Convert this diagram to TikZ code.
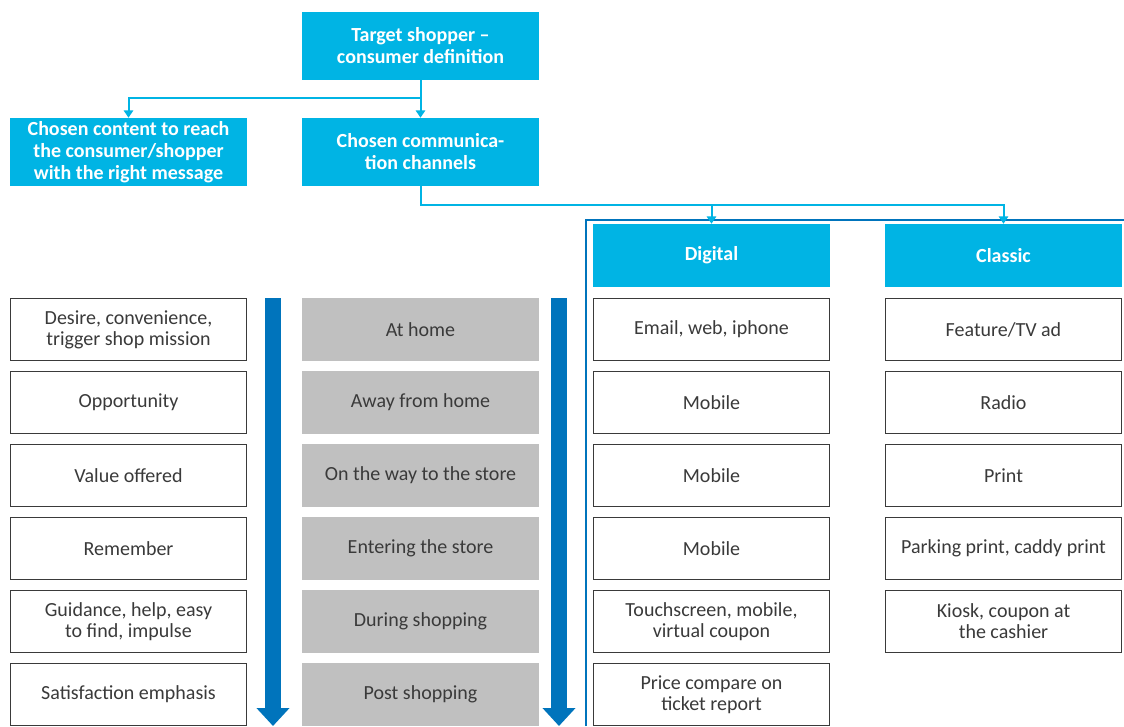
\documentclass[tikz,border=0pt]{standalone}
\usepackage{fontspec}
\setmainfont{Carlito}
\usetikzlibrary{arrows.meta,positioning}
\definecolor{cyanbox}{HTML}{00B4E4}
\definecolor{arrowblue}{HTML}{0074BC}
\definecolor{greybox}{HTML}{C0C0C0}
\definecolor{txtgrey}{HTML}{3A3A3A}
\newcommand{\hd}[1]{\textbf{#1}}

\begin{document}
\begin{tikzpicture}[x=0.75pt,y=-0.75pt,
    headbox/.style={fill=cyanbox, text=white, align=center, inner sep=0pt,
      minimum width=177.75pt, minimum height=51pt,
      font=\fontsize{15}{16.5}\selectfont},
    chanbox/.style={headbox, minimum height=47.25pt},
    whitebox/.style={draw=txtgrey, line width=0.75pt, fill=white, text=txtgrey,
      align=center, inner sep=0pt, minimum width=177pt, minimum height=46.5pt,
      font=\fontsize{15}{15.75}\selectfont},
    greyrow/.style={whitebox, draw=none, fill=greybox, minimum width=177.75pt,
      minimum height=47.25pt},
    link/.style={draw=cyanbox, line width=1.5pt, -{Triangle[width=7pt,length=5.5pt]}},
    fatarrow/.style={draw=arrowblue, line width=12pt, -{Triangle[width=24pt,length=13.5pt]}}]
    \useasboundingbox (0,0) rectangle (1124,726);

    \node[headbox] (target) at (420.5,46) {\hd{Target shopper --}\\\hd{consumer definition}};
    \node[headbox] (content) at (128.5,152) {\hd{Chosen content to reach}\\\hd{the consumer/shopper}\\\hd{with the right message}};
    \node[headbox] (comm) at (420.5,152) {\hd{Chosen communica-}\\\hd{tion channels}};

    \draw[arrowblue, line width=1.5pt] (586,726) -- (586,220) -- (1124,220);

    \node[chanbox] (digital) at (711.5,255.5) {\hd{Digital}};
    \node[chanbox] (classic) at (1003.5,255.5) {\hd{Classic}};

    \coordinate (split) at (420.5,98);
    \coordinate (fork) at (420.5,205);
    \draw[link] (target.south) -- (split) -| (content.north);
    \draw[link] (split) -- (comm.north);
    \draw[link] (comm.south) -- (fork) -| (classic.north);
    \draw[link] (digital.north |- fork) -- (digital.north);

    \foreach \t [count=\i] in {{Desire, convenience,\\trigger shop mission}, Opportunity,
        Value offered, Remember, {Guidance, help, easy\\to find, impulse}, Satisfaction emphasis}
        \node[whitebox] (need\i) at (128.5,{329.5+73*(\i-1)}) {\t};

    \foreach \t [count=\i] in {At home, Away from home, On the way to the store,
        Entering the store, During shopping, Post shopping}
        \node[greyrow] (moment\i) at (420.5,{329.5+73*(\i-1)}) {\t};

    \foreach \t [count=\i] in {{Email, web, iphone}, Mobile, Mobile, Mobile,
        {Touchscreen, mobile,\\virtual coupon}, {Price compare on\\ticket report}}
        \node[whitebox] (dig\i) at (711.5,{329.5+73*(\i-1)}) {\t};

    \foreach \t [count=\i] in {Feature/TV ad, Radio, Print, {Parking print, caddy print},
        {Kiosk, coupon at\\the cashier}}
        \node[whitebox] (cla\i) at (1003.5,{329.5+73*(\i-1)}) {\t};

    \coordinate (ltop) at (273,298);
    \coordinate (lend) at (273,726);
    \coordinate (rtop) at (559,298);
    \coordinate (rend) at (559,726);
    \draw[fatarrow] (ltop) -- (lend);
    \draw[fatarrow] (rtop) -- (rend);
\end{tikzpicture}
\end{document}
